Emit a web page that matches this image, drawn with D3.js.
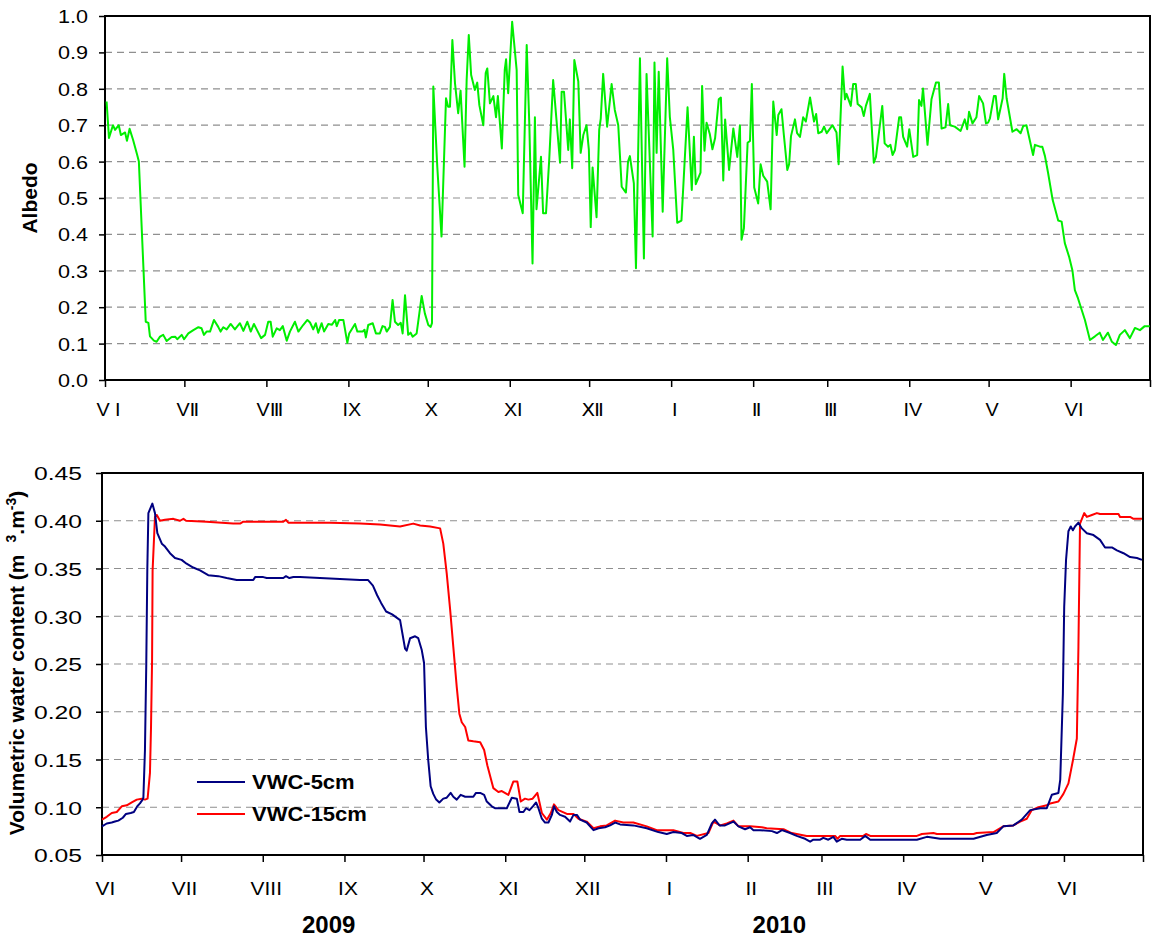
<!DOCTYPE html>
<html>
<head>
<meta charset="utf-8">
<script src="https://cdn.jsdelivr.net/npm/d3@7"></script>
<style>
  body { margin: 0; background: #fff; }
  text { font-family: "Liberation Sans", Arial, sans-serif; }
</style>
</head>
<body>
<div id="container"></div>
<script>
let w = 1152;
let h = 937;

// time axis: 1 June 2009 to 1 July 2010, positions are days after 1 June 2009
let startDate = new Date(2009, 5, 1);
let endDate = new Date(2010, 6, 1);

let topMonthLabels = ["V I", "V\u2161", "V\u2162", "IX", "X", "XI", "\u216B", "I", "\u2161", "\u2162", "IV", "V", "VI", ""];
let bottomMonthLabels = ["VI", "VII", "VIII", "IX", "X", "XI", "XII", "I", "II", "III", "IV", "V", "VI", ""];
let albedoTicks = [0, 0.1, 0.2, 0.3, 0.4, 0.5, 0.6, 0.7, 0.8, 0.9, 1.0];
let vwcTicks = [0.05, 0.10, 0.15, 0.20, 0.25, 0.30, 0.35, 0.40, 0.45];
let years = ["2009", "2010"];
let yearDates = [new Date(2009, 7, 26), new Date(2010, 1, 13)];
let seriesNames = ["VWC-5cm", "VWC-15cm"];

// albedo (day, value)
let albedoDay = [0.6,1.5,3.0,3.8,5.2,6.0,7.6,8.3,9.3,10.6,12.1,12.8,15.4,16.4,17.0,18.5,19.5,20.8,22.0,23.3,
  25.2,26.5,27.3,29.0,29.9,31.5,33.4,35.3,36.5,37.4,38.4,39.7,41.2,42.8,43.7,44.7,46.0,47.5,49.1,51.0,
  52.3,53.8,55.1,56.3,59.0,60.5,61.7,62.6,63.4,64.9,66.1,67.2,68.7,69.9,71.8,73.1,74.9,76.5,77.5,78.7,
  79.7,80.6,81.9,82.8,84.4,85.8,87.0,87.6,88.5,90.1,91.6,92.3,94.5,95.4,97.4,98.1,98.6,99.5,101.2,102.4,
  103.9,104.9,105.8,106.5,107.7,108.7,109.6,110.8,111.8,112.5,113.4,114.6,115.5,116.3,117.8,119.7,120.9,122.2,123.1,123.6,
  124.1,125.6,127.2,128.9,129.7,130.4,131.3,132.3,133.5,134.4,135.9,136.7,137.5,138.4,139.8,140.7,141.5,143.0,143.9,144.5,
  145.5,146.8,147.8,148.5,150.0,151.1,151.6,152.4,153.9,155.6,156.2,157.9,159.4,160.4,161.6,162.5,163.1,164.8,165.6,166.7,
  167.9,169.4,172.0,172.6,173.5,175.1,175.7,176.6,177.4,178.9,179.8,180.8,182.0,182.9,183.6,184.3,185.8,186.8,187.4,188.3,
  189.8,191.5,192.7,194.0,195.3,196.9,197.7,198.4,199.9,200.7,202.2,203.7,204.7,207.0,207.7,208.5,209.3,210.8,212.5,213.5,
  214.8,216.3,217.9,220.2,221.8,222.6,223.3,225.1,225.7,226.6,227.4,228.6,229.6,230.6,232.0,232.8,233.7,234.4,235.9,237.5,
  239.0,240.0,240.6,241.5,242.9,243.8,244.5,245.4,246.9,247.8,248.8,250.3,251.6,252.6,253.9,254.5,255.7,256.6,257.9,258.6,
  259.3,260.8,261.6,262.7,263.9,264.9,266.5,268.0,268.8,269.6,270.9,271.8,272.8,275.0,276.5,277.3,278.8,279.7,280.3,281.9,
  282.8,283.8,284.5,286.0,286.8,287.6,289.1,290.6,291.4,293.8,294.7,296.0,296.9,297.7,298.6,300.2,300.9,301.7,303.2,304.0,
  305.5,307.0,307.7,308.6,309.2,310.9,312.4,314.1,315.2,316.2,317.7,318.7,319.4,321.2,323.4,325.0,325.9,326.6,327.9,329.4,
  330.4,331.9,333.0,333.8,334.5,336.0,336.7,337.6,339.3,339.9,340.8,343.0,344.6,346.1,347.1,348.3,350.8,351.5,353.4,354.3,
  355.3,356.5,358.2,360.3,361.6,362.8,364.4,365.7,366.6,367.8,370.4,372.3,374.2,376.0,377.2,379.1,380.6,382.1,383.6,385.5,
  387.4,389.3,391.2,393.0,394.9];
let albedoValue = [0.765,0.665,0.70,0.687,0.70,0.673,0.68,0.657,0.69,0.66,0.62,0.60,0.16,0.157,0.12,0.108,0.105,0.119,0.124,0.107,
  0.118,0.119,0.112,0.124,0.112,0.128,0.137,0.145,0.142,0.124,0.133,0.133,0.165,0.146,0.133,0.145,0.139,0.154,0.139,0.156,
  0.135,0.16,0.133,0.154,0.115,0.124,0.16,0.16,0.119,0.142,0.137,0.148,0.108,0.133,0.16,0.133,0.151,0.165,0.158,0.139,
  0.156,0.13,0.156,0.133,0.154,0.152,0.165,0.148,0.165,0.165,0.102,0.128,0.154,0.133,0.133,0.138,0.117,0.151,0.156,0.128,
  0.128,0.148,0.146,0.133,0.146,0.22,0.16,0.151,0.157,0.128,0.233,0.124,0.13,0.119,0.128,0.231,0.183,0.151,0.146,0.156,
  0.806,0.586,0.394,0.774,0.751,0.751,0.934,0.815,0.733,0.795,0.586,0.824,0.948,0.838,0.797,0.817,0.755,0.70,0.843,0.856,
  0.76,0.78,0.722,0.78,0.636,0.852,0.881,0.788,0.984,0.852,0.508,0.458,0.92,0.70,0.32,0.722,0.469,0.613,0.458,0.458,
  0.604,0.824,0.597,0.792,0.792,0.632,0.716,0.582,0.879,0.82,0.624,0.673,0.70,0.632,0.42,0.584,0.447,0.687,0.719,0.841,
  0.696,0.813,0.742,0.70,0.531,0.515,0.60,0.615,0.54,0.307,0.884,0.334,0.841,0.394,0.872,0.624,0.847,0.462,0.884,0.723,
  0.632,0.432,0.438,0.749,0.522,0.668,0.538,0.57,0.808,0.63,0.707,0.676,0.634,0.664,0.771,0.776,0.548,0.716,0.577,0.691,
  0.613,0.70,0.385,0.417,0.652,0.657,0.813,0.529,0.485,0.593,0.561,0.545,0.469,0.765,0.673,0.728,0.744,0.673,0.577,0.593,
  0.67,0.716,0.678,0.668,0.722,0.71,0.776,0.71,0.731,0.678,0.682,0.696,0.678,0.70,0.68,0.593,0.861,0.771,0.786,0.753,
  0.813,0.813,0.758,0.749,0.725,0.753,0.786,0.597,0.612,0.753,0.65,0.641,0.646,0.618,0.632,0.722,0.722,0.668,0.641,0.689,
  0.613,0.618,0.769,0.753,0.801,0.646,0.771,0.817,0.817,0.691,0.694,0.758,0.70,0.696,0.684,0.716,0.689,0.737,0.705,0.722,
  0.78,0.76,0.705,0.707,0.719,0.78,0.78,0.716,0.774,0.841,0.774,0.682,0.689,0.678,0.698,0.70,0.618,0.646,0.641,0.641,
  0.615,0.568,0.495,0.438,0.435,0.376,0.339,0.30,0.247,0.224,0.165,0.11,0.12,0.13,0.11,0.13,0.105,0.096,0.124,0.137,
  0.115,0.143,0.137,0.148,0.148];

// volumetric water content at 5 cm (day, value)
let vwc5Day = [0,1.8,3.7,4.9,6.2,7.9,9.1,10.9,12.1,13.4,14.4,15.4,15.7,16.3,16.8,17.2,17.6,19.1,20.1,21.0,
  22.7,23.9,25.8,27.7,30.2,32.1,34.6,37.2,40.3,44.1,47.3,51.1,57.4,58.1,61.2,62.5,68.8,69.8,71.1,72.6,
  75.1,82.7,90.3,97.9,100.9,102.8,104.4,105.9,107.8,110.1,113.1,115.0,115.6,116.9,118.8,120.0,121.3,122.2,122.9,123.8,
  124.7,125.7,126.8,128.0,129.5,130.8,132.3,133.3,134.6,136.1,137.8,140.9,141.9,143.5,145.0,146.0,147.9,149.1,153.6,155.5,
  157.4,158.4,159.9,160.9,162.2,163.5,164.7,165.6,166.9,168.1,169.4,170.7,171.5,172.6,173.8,175.7,177.6,178.9,180.2,181.4,
  183.9,186.5,188.4,190.9,192.8,194.7,196.6,201.6,206.7,211.1,214.3,216.8,220.0,221.9,224.3,226.9,229.5,231.4,232.6,234.3,
  236.4,239.6,241.5,244.0,245.9,247.2,249.7,254.2,256.1,258.0,261.1,263.6,266.8,268.7,269.9,272.5,273.7,275.6,277.5,278.8,
  280.7,282.6,287.7,289.6,291.5,309.2,313.0,318.0,330.7,335.7,339.5,342.0,345.8,349.0,352.2,356.0,358.5,360.4,362.9,363.6,
  364.6,365.1,365.8,366.7,367.6,368.4,369.2,370.5,371.8,373.7,376.2,378.7,380.6,383.2,385.1,387.6,390.1,392.7,394.6];
let vwc5 = [0.080,0.083,0.084,0.085,0.086,0.089,0.093,0.094,0.095,0.101,0.104,0.108,0.110,0.160,0.250,0.350,0.408,0.418,0.408,0.387,
  0.376,0.373,0.366,0.361,0.359,0.355,0.351,0.348,0.343,0.342,0.340,0.338,0.338,0.341,0.341,0.340,0.340,0.342,0.340,0.341,
  0.341,0.340,0.339,0.338,0.338,0.332,0.322,0.314,0.305,0.302,0.296,0.266,0.264,0.277,0.279,0.277,0.265,0.251,0.184,0.149,
  0.122,0.114,0.108,0.105,0.109,0.110,0.115,0.111,0.108,0.113,0.111,0.111,0.115,0.115,0.113,0.106,0.101,0.099,0.099,0.110,
  0.109,0.095,0.095,0.099,0.097,0.101,0.105,0.099,0.088,0.084,0.084,0.092,0.101,0.095,0.092,0.090,0.085,0.092,0.092,0.087,
  0.084,0.076,0.078,0.079,0.081,0.084,0.082,0.081,0.078,0.074,0.072,0.074,0.073,0.070,0.071,0.067,0.071,0.083,0.087,0.081,
  0.081,0.085,0.080,0.077,0.079,0.076,0.076,0.075,0.073,0.076,0.073,0.070,0.067,0.064,0.066,0.066,0.068,0.066,0.069,0.064,
  0.067,0.066,0.066,0.070,0.066,0.066,0.069,0.067,0.067,0.071,0.073,0.080,0.081,0.087,0.097,0.099,0.099,0.113,0.115,0.129,
  0.219,0.310,0.359,0.389,0.394,0.390,0.394,0.398,0.392,0.387,0.385,0.380,0.372,0.372,0.369,0.366,0.362,0.361,0.359];

// volumetric water content at 15 cm (day, value)
let vwc15Day = [0,1.8,3.7,5.6,7.5,9.4,11.3,13.2,15.1,16.3,17.3,18.2,18.6,19.0,19.2,20.1,20.8,22.0,23.9,27.1,
  29.6,30.9,31.9,39.7,49.8,52.4,53.6,68.8,69.8,70.7,75.1,86.5,97.9,105.5,113.1,118.1,120.7,124.5,128.3,129.5,
  130.8,132.1,133.3,134.6,135.6,136.5,137.8,139.0,140.9,143.5,145.0,146.2,148.5,150.4,151.7,154.2,156.1,157.6,158.9,160.5,
  161.8,163.4,165.2,166.9,168.8,170.3,171.5,173.2,176.4,178.9,180.8,183.9,186.5,189.0,191.5,194.7,197.8,201.6,206.7,210.5,
  216.8,220.6,223.2,225.7,230.1,232.0,234.6,237.1,239.6,241.5,245.9,250.4,252.2,258.6,261.7,267.4,278.2,279.1,280.1,288.9,
  289.9,291.5,309.2,311.1,315.5,316.8,330.7,331.9,338.3,342.0,345.8,348.4,350.9,352.8,355.3,358.5,359.8,362.9,364.8,366.7,
  368.4,369.9,370.5,371.1,372.7,373.7,375.6,377.5,378.7,385.7,386.3,390.1,391.4,394.6];
let vwc15 = [0.087,0.090,0.094,0.095,0.101,0.102,0.105,0.108,0.109,0.108,0.109,0.136,0.184,0.254,0.348,0.404,0.406,0.400,0.401,0.402,
  0.400,0.402,0.400,0.399,0.397,0.397,0.399,0.399,0.401,0.398,0.398,0.398,0.397,0.396,0.394,0.397,0.395,0.394,0.392,0.376,
  0.345,0.307,0.268,0.226,0.198,0.189,0.184,0.170,0.169,0.168,0.160,0.144,0.120,0.116,0.117,0.113,0.127,0.127,0.106,0.109,
  0.108,0.109,0.115,0.094,0.087,0.094,0.103,0.097,0.093,0.093,0.088,0.085,0.078,0.080,0.081,0.086,0.084,0.084,0.080,0.076,
  0.076,0.073,0.073,0.070,0.073,0.085,0.081,0.083,0.086,0.080,0.080,0.079,0.078,0.077,0.073,0.070,0.070,0.067,0.070,0.070,
  0.072,0.070,0.070,0.072,0.073,0.072,0.072,0.073,0.074,0.080,0.081,0.085,0.088,0.097,0.100,0.102,0.104,0.106,0.114,0.125,
  0.149,0.172,0.268,0.397,0.408,0.404,0.406,0.408,0.407,0.407,0.404,0.404,0.402,0.402];

function toDate(day){
  return new Date(startDate.getTime() + day * 86400000);
}

function zipSeries(days, values){
  return days.map(function(d, i){ return {date: toDate(d), value: values[i]}; });
}

let monthTicks = d3.timeMonth.range(startDate, d3.timeDay.offset(endDate, 1));

let viz = d3.select("#container")
  .append("svg")
    .attr("width", w)
    .attr("height", h)
    .style("background-color", "white");

// draws one panel: gridlines, axes, frame, returns scales
function drawPanel(opt){
  let x = d3.scaleTime().domain([startDate, endDate]).range([opt.left, opt.right]);
  let y = d3.scaleLinear().domain(opt.yDomain).range([opt.bottom, opt.top]);
  let g = viz.append("g");

  // dashed gridlines, not on the frame edges
  g.selectAll(".grid").data(opt.yTicks.slice(1, -1)).enter()
    .append("line")
      .attr("x1", opt.left).attr("x2", opt.right)
      .attr("y1", function(d){ return y(d); })
      .attr("y2", function(d){ return y(d); })
      .attr("stroke", "#8f8f8f")
      .attr("stroke-width", 1.2)
      .attr("stroke-dasharray", "7,5");

  let yAxis = d3.axisLeft(y).tickValues(opt.yTicks).tickFormat(d3.format(opt.fmt)).tickSize(6).tickSizeOuter(0);
  let yAxisGroup = g.append("g").attr("transform", "translate(" + opt.left + ",0)").call(yAxis);
  yAxisGroup.select(".domain").remove();
  yAxisGroup.selectAll("line").attr("stroke", "#000").attr("stroke-width", 1.5);
  yAxisGroup.selectAll("text")
    .attr("x", -opt.yLabelGap / opt.yStretch)
    .attr("dy", "0.36em")
    .attr("transform", "scale(" + opt.yStretch + ",1)")
    .style("font-size", opt.yFont + "px")
    .style("font-family", "'Liberation Sans', Arial, sans-serif")
    .attr("fill", "#000");

  let xAxis = d3.axisBottom(x).tickValues(monthTicks)
    .tickFormat(function(d, i){ return opt.monthLabels[i]; })
    .tickSize(7).tickSizeOuter(0);
  let xAxisGroup = g.append("g").attr("transform", "translate(0," + opt.bottom + ")").call(xAxis);
  xAxisGroup.select(".domain").remove();
  xAxisGroup.selectAll("line").attr("stroke", "#000").attr("stroke-width", 1.5);
  xAxisGroup.selectAll("text")
    .attr("y", opt.xLabelY)
    .attr("dy", null)
    .attr("transform", "translate(3,0) scale(1.1,1)")
    .style("font-size", opt.xFont + "px")
    .style("font-family", "'Liberation Sans', 'DejaVu Sans', Arial, sans-serif")
    .attr("fill", "#000");

  // frame
  g.append("rect")
    .attr("x", opt.left).attr("y", opt.top)
    .attr("width", opt.right - opt.left).attr("height", opt.bottom - opt.top)
    .attr("fill", "none").attr("stroke", "#000").attr("stroke-width", 2);

  return {x: x, y: y, g: g};
}

// ---- top panel: albedo
let topPanel = drawPanel({
  left: 105, right: 1150, top: 16, bottom: 380,
  yDomain: [0, 1], yTicks: albedoTicks, fmt: ".1f",
  yLabelGap: 17, yStretch: 1.2, yFont: 18,
  monthLabels: topMonthLabels, xLabelY: 36, xFont: 18
});

let albedoLine = d3.line()
  .x(function(d){ return topPanel.x(d.date); })
  .y(function(d){ return topPanel.y(d.value); });

viz.append("path")
  .datum(zipSeries(albedoDay, albedoValue))
  .attr("d", albedoLine)
  .attr("fill", "none")
  .attr("stroke", "#00ee00")
  .attr("stroke-width", 2)
  .attr("stroke-linejoin", "round");

viz.append("text")
  .attr("transform", "translate(37,198) rotate(-90)")
  .attr("text-anchor", "middle")
  .style("font-size", "21px")
  .style("font-weight", "bold")
  .text("Albedo");

// ---- bottom panel: volumetric water content
let botPanel = drawPanel({
  left: 102, right: 1143, top: 473, bottom: 855,
  yDomain: [0.05, 0.45], yTicks: vwcTicks, fmt: ".2f",
  yLabelGap: 20, yStretch: 1.3, yFont: 19,
  monthLabels: bottomMonthLabels, xLabelY: 40, xFont: 19
});

let vwcLine = d3.line()
  .x(function(d){ return botPanel.x(d.date); })
  .y(function(d){ return botPanel.y(d.value); });

let colors = ["#000080", "#ff0000"];
let vwcSeries = [zipSeries(vwc15Day, vwc15), zipSeries(vwc5Day, vwc5)];

viz.selectAll(".vwc").data(vwcSeries).enter()
  .append("path")
    .attr("class", "vwc")
    .attr("d", vwcLine)
    .attr("fill", "none")
    .attr("stroke", function(d, i){ return i == 0 ? colors[1] : colors[0]; })
    .attr("stroke-width", 2)
    .attr("stroke-linejoin", "round");

// y title with superscripts
let ytitle = viz.append("text")
  .attr("transform", "translate(24,663) rotate(-90)")
  .attr("text-anchor", "middle")
  .style("font-size", "21px")
  .style("font-weight", "bold");
ytitle.append("tspan").text("Volumetric water content (m");
ytitle.append("tspan").attr("dx", 12).attr("dy", -8).style("font-size", "14px").text("3");
ytitle.append("tspan").attr("dy", 8).text(".m");
ytitle.append("tspan").attr("dy", -8).style("font-size", "14px").text("-3");
ytitle.append("tspan").attr("dy", 8).text(")");

// legend
let legend = viz.append("g").attr("transform", "translate(197,782)");
seriesNames.forEach(function(name, i){
  legend.append("line")
    .attr("x1", 0).attr("x2", 48)
    .attr("y1", i * 32).attr("y2", i * 32)
    .attr("stroke", colors[i]).attr("stroke-width", 2);
  legend.append("text")
    .attr("transform", "translate(55," + (i * 32 + 7) + ") scale(1.1,1)")
    .style("font-size", "20px")
    .style("font-weight", "bold")
    .text(name);
});

// years under the bottom axis
viz.selectAll(".year").data(years).enter()
  .append("text")
    .attr("class", "year")
    .attr("x", function(d, i){ return botPanel.x(yearDates[i]); })
    .attr("y", 933)
    .attr("text-anchor", "middle")
    .style("font-size", "24px")
    .style("font-weight", "bold")
    .text(function(d){ return d; });
</script>
</body>
</html>
